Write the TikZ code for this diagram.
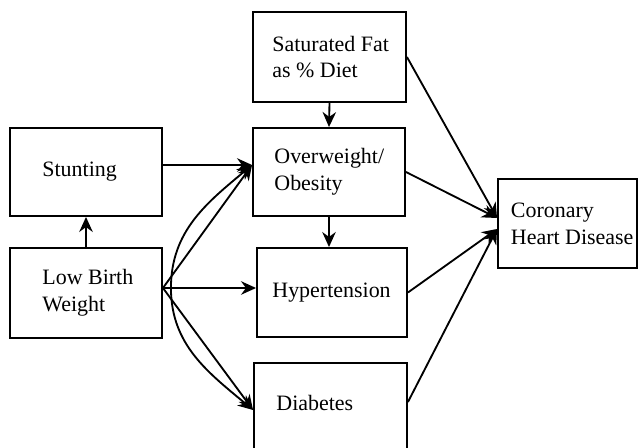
\documentclass[tikz,border=0pt]{standalone}
\usepackage{fontspec}
\setmainfont{Liberation Serif}
\usetikzlibrary{arrows.meta}

\begin{document}
\begin{tikzpicture}[
    x=0.02cm, y=-0.02cm,
    box/.style={draw, line width=1.1pt, inner sep=0pt},
    lbl/.style={inner sep=0pt, anchor=west, align=left, font=\fontsize{12.5}{15.3}\selectfont},
    arr/.style={line width=1.05pt, -{Stealth[length=3mm, width=2.7mm]}},
  ]
    \useasboundingbox (0,0) rectangle (640,448);

    % === Boxes ===
    \node[box, minimum width=3.04cm, minimum height=1.76cm] (stunt) at (86,172) {};
    \node[box, minimum width=3.04cm, minimum height=1.80cm] (lbw) at (86,293) {};
    \node[box, minimum width=3.06cm, minimum height=1.80cm] (fat) at (329.5,57) {};
    \node[box, minimum width=3.04cm, minimum height=1.76cm] (ow) at (329,172) {};
    \node[box, minimum width=3.00cm, minimum height=1.78cm] (hyp) at (332,292.5) {};
    \node[box, minimum width=3.06cm, minimum height=1.76cm] (diab) at (330.5,407) {};
    \node[box, minimum width=2.78cm, minimum height=1.78cm] (chd) at (567.5,223.5) {};

    % --- labels, set in from the left edge ---
    \node[lbl] (stunt-t) at ([xshift=0.66cm]stunt.west) {Stunting};
    \node[lbl] (lbw-t) at ([xshift=0.66cm]lbw.west) {Low Birth\\Weight};
    \node[lbl] (fat-t) at ([xshift=0.40cm]fat.west) {Saturated Fat\\as \% Diet};
    \node[lbl] (ow-t) at ([xshift=0.44cm]ow.west) {Overweight/\\Obesity};
    \node[lbl] (hyp-t) at ([xshift=0.32cm]hyp.west) {Hypertension};
    \node[lbl] (diab-t) at ([xshift=0.46cm, yshift=0.09cm]diab.west) {Diabetes};
    \node[lbl] (chd-t) at ([xshift=0.27cm]chd.west) {Coronary\\Heart Disease};

    % === Connection points ===
    \coordinate (owin) at ([yshift=0.14cm]ow.west);
    \coordinate (lbwout) at ([yshift=0.10cm]lbw.east);
    \coordinate (lbwarc) at ([xshift=0.16cm]lbwout);
    \coordinate (diabin) at ([yshift=-0.06cm]diab.west);
    \coordinate (diabout) at ([yshift=0.10cm]diab.east);
    \coordinate (chdin1) at ([yshift=0.11cm]chd.west);
    \coordinate (chdin2) at ([yshift=-0.11cm]chd.west);

    % === Arrows ===
    \draw[arr] (lbw.north) -- (stunt.south);
    \draw[arr] (stunt.east |- owin) -- (owin);
    \draw[arr] (lbwout) -- (owin);
    \draw[arr] (lbwout) -- (lbwout -| hyp.west);
    \draw[arr] (lbwout) -- (diabin);
    \draw[arr] (lbwarc) to[out=90, in=-140] (owin);
    \draw[arr] (lbwarc) to[out=-90, in=140] (diabin);
    \draw[arr] (fat.south) -- (ow.north);
    \draw[arr] (ow.south) -- (ow.south |- hyp.north);
    \draw[arr] (fat.east) -- (chdin1);
    \draw[arr] (ow.east) -- (chdin1);
    \draw[arr] (hyp.east) -- (chdin2);
    \draw[arr] (diabout) -- (chdin2);
\end{tikzpicture}
\end{document}
